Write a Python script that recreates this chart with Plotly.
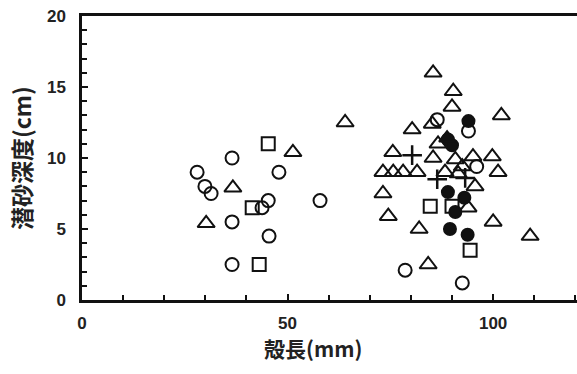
import plotly.graph_objects as go

# shell length (mm) and burrowing depth (cm) per marker group
circle_x = [28.0, 29.9, 31.4, 36.5, 36.5, 36.5, 43.8, 45.3, 45.5, 47.9, 57.9, 78.6, 92.5, 86.4, 94.0, 96.0]
circle_y = [9.0, 8.0, 7.5, 10.0, 5.5, 2.5, 6.5, 7.0, 4.5, 9.0, 7.0, 2.1, 1.2, 12.7, 11.9, 9.4]

square_x = [45.3, 41.4, 43.1, 84.7, 90.0, 94.4]
square_y = [11.0, 6.5, 2.5, 6.6, 6.6, 3.5]

triangle_x = [30.2, 36.7, 51.3, 64.0, 85.4, 90.3, 90.0, 85.2, 80.3, 102.0, 86.6, 75.6, 85.4,
              90.8, 95.1, 99.8, 73.2, 75.7, 78.1, 81.5, 88.3, 92.5, 101.2, 95.6, 73.2, 74.5,
              82.0, 93.9, 100.0, 109.0, 84.2, 91.5]
triangle_y = [5.4, 7.9, 10.4, 12.5, 16.0, 14.7, 13.6, 12.4, 12.0, 13.0, 11.0, 10.4, 10.0,
              9.9, 10.1, 10.1, 9.0, 9.0, 9.0, 9.0, 9.0, 9.4, 9.0, 8.0, 7.5, 5.9,
              5.0, 6.5, 5.5, 4.5, 2.5, 8.9]

filled_circle_x = [94.0, 89.0, 90.0, 89.0, 93.0, 90.8, 89.5, 93.8]
filled_circle_y = [12.6, 11.3, 10.9, 7.6, 7.2, 6.2, 5.0, 4.6]

filled_triangle_x = [88.8]
filled_triangle_y = [11.4]

plus_x = [80.3, 86.4, 93.2]
plus_y = [10.2, 8.5, 8.6]

x_title = "殻長(mm)"
y_title = "潜砂深度(cm)"

fig = go.Figure()

def add(xs, ys, symbol, size, filled=False):
    fig.add_trace(go.Scatter(
        x=xs, y=ys, mode="markers",
        marker=dict(symbol=symbol, size=size,
                    color="#111" if filled else "rgba(0,0,0,0)",
                    line=dict(color="#111", width=2)),
        showlegend=False, hoverinfo="skip"))

add(triangle_x, triangle_y, "triangle-up", 15)
add(circle_x, circle_y, "circle", 13)
add(square_x, square_y, "square", 13)
add(filled_circle_x, filled_circle_y, "circle", 12, filled=True)
add(filled_triangle_x, filled_triangle_y, "triangle-up", 14, filled=True)
fig.add_trace(go.Scatter(x=plus_x, y=plus_y, mode="markers",
                         marker=dict(symbol="cross-thin", size=14,
                                     line=dict(color="#111", width=2.5)),
                         showlegend=False, hoverinfo="skip"))

tick_font = dict(family="Liberation Sans, Arial, sans-serif", size=17, color="#222", weight="bold")
title_font = dict(family="Noto Sans CJK JP, sans-serif", size=21, color="#222", weight="bold")

fig.update_layout(
    width=577, height=374,
    margin=dict(l=82, r=0, t=16, b=74, autoexpand=False),
    paper_bgcolor="white", plot_bgcolor="white",
    xaxis=dict(range=[0, 120.4], showgrid=False, zeroline=False, automargin=False,
               showline=True, linecolor="#111", linewidth=2.5, mirror=True,
               tickmode="array", tickvals=[0, 50, 100], ticktext=["0", "50", "100"],
               ticks="inside", ticklen=6, tickwidth=1.5, tickcolor="#111",
               minor=dict(dtick=10, ticks="inside", ticklen=5, tickwidth=1.5, tickcolor="#111"),
               tickfont=tick_font, ticklabelstandoff=6),
    yaxis=dict(range=[0, 20], showgrid=False, zeroline=False, automargin=False,
               showline=True, linecolor="#111", linewidth=2.5, mirror=False,
               tickmode="array", tickvals=[0, 5, 10, 15, 20],
               ticks="inside", ticklen=6, tickwidth=1.5, tickcolor="#111",
               minor=dict(dtick=1, ticks="inside", ticklen=5, tickwidth=1.5, tickcolor="#111"),
               tickfont=tick_font, ticklabelstandoff=10),
    annotations=[
        dict(text=x_title, xref="paper", yref="paper", x=(313 - 82) / 495, y=-(331 - 300) / 284,
             xanchor="center", yanchor="top", showarrow=False, font=title_font),
        dict(text=y_title, xref="paper", yref="paper", x=-(82 - 21) / 495, y=0.5,
             xanchor="center", yanchor="middle", textangle=-90, showarrow=False,
             font=dict(title_font, size=23)),
    ],
)

fig.write_html("out.html", config={"displayModeBar": False},
               post_script="document.body.style.margin='0';document.body.style.overflow='hidden';")
